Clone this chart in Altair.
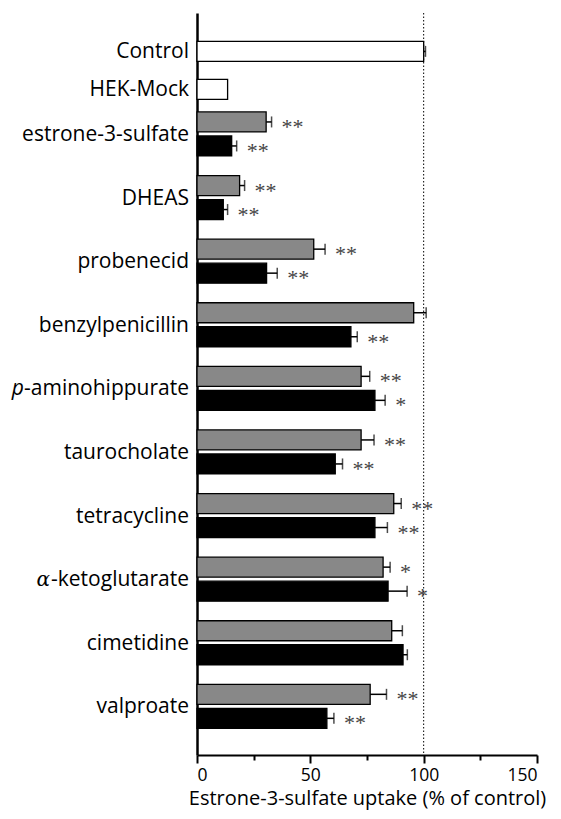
import altair as alt
import pandas as pd

# ---- data ----
controls = ["Control", "HEK-Mock"]
control_vals = [100.0, 13.5]
control_err = [0.8, 0.0]

categories = ["estrone-3-sulfate", "DHEAS", "probenecid", "benzylpenicillin",
              "p-aminohippurate", "taurocholate", "tetracycline",
              "α-ketoglutarate", "cimetidine", "valproate"]
gray_vals = [30.5, 18.8, 51.5, 95.6, 72.4, 72.4, 86.8, 82.1, 85.9, 76.4]
gray_err = [2.4, 2.2, 5.0, 5.5, 3.8, 5.7, 3.3, 3.1, 4.7, 7.2]
gray_sig = ["**", "**", "**", "", "**", "**", "**", "*", "", "**"]
black_vals = [15.3, 11.6, 30.7, 67.9, 78.5, 61.0, 78.5, 84.3, 90.9, 57.3]
black_err = [2.2, 1.9, 4.7, 2.8, 4.5, 3.2, 5.5, 8.4, 1.9, 3.1]
black_sig = ["**", "**", "**", "**", "*", "**", "**", "*", "", "**"]

x_ticks = [0, 25, 50, 75, 100, 125, 150]
ref_line = [100]

# ---- tables ----
ctrl_group = "Control / HEK-Mock"
group_order = [ctrl_group] + categories

ctrl_rows = []
for i, (n, v, e) in enumerate(zip(controls, control_vals, control_err)):
    ctrl_rows.append(dict(group=ctrl_group, slot=str(i + 1), kind="open",
                          name=n, value=v, err=e, end=v + e))
ctrl = pd.DataFrame(ctrl_rows)

rows = []
for c, v, e, s in zip(categories, gray_vals, gray_err, gray_sig):
    rows.append(dict(group=c, slot="1", kind="gray", value=v, err=e, end=v + e, sig=s))
for c, v, e, s in zip(categories, black_vals, black_err, black_sig):
    rows.append(dict(group=c, slot="2", kind="black", value=v, err=e, end=v + e, sig=s))
pairs = pd.DataFrame(rows)

prefix = {"p-aminohippurate": "p", "α-ketoglutarate": "α"}
labels = pd.DataFrame([dict(group=c, main=c[len(prefix.get(c, "")):], pre=prefix.get(c, ""))
                       for c in categories])

FONT = "Open Sans"
FILL = alt.Scale(domain=["open", "gray", "black"], range=["white", "#888888", "black"])

y_scale = alt.Scale(domain=group_order, paddingInner=0.308, paddingOuter=0.4875, align=0.57)
Y = alt.Y("group:N", scale=y_scale, sort=group_order,
          axis=alt.Axis(labels=False, ticks=False, title=None, domainWidth=2.5,
                        domainColor="black", grid=False))
# band offsets for bars / error bars
YO_pair = alt.YOffset("slot:N", scale=alt.Scale(domain=["1", "2"], paddingInner=1 / 6, paddingOuter=0))
YO_ctrl = alt.YOffset("slot:N", scale=alt.Scale(domain=["1", "2"], paddingInner=0.84, paddingOuter=0))
# point offsets for text marks (same centres as the bars)
YO_pair_txt = alt.YOffset("slot:N", scale=alt.Scale(type="point", domain=["1", "2"], padding=0.4167))
YO_ctrl_txt = alt.YOffset("slot:N", scale=alt.Scale(type="point", domain=["1", "2"], padding=0.079))

X = alt.X("value:Q", scale=alt.Scale(domain=[0, 150], nice=False),
          axis=alt.Axis(values=x_ticks, title="Estrone-3-sulfate uptake (% of control)",
                        labelExpr="datum.value % 50 === 0 ? datum.label : ''",
                        tickSize={"condition": {"test": "datum.value % 50 === 0", "value": 8}, "value": 5},
                        tickWidth=2, tickColor="black", domainWidth=2, domainColor="black",
                        labelFont=FONT, labelFontSize=17.5, labelColor="black", labelPadding=3,
                        titleFont=FONT, titleFontSize=20, titleFontWeight="normal",
                        titleColor="black", titlePadding=5, grid=False))

pc = alt.Chart(pairs)
cc = alt.Chart(ctrl)

pair_bars = pc.mark_bar(stroke="black", strokeWidth=1.3).encode(
    x=X, y=Y, yOffset=YO_pair, fill=alt.Fill("kind:N", scale=FILL, legend=None))
pair_rule = pc.mark_rule(color="black", strokeWidth=1.5).encode(
    x="value:Q", x2="end:Q", y="group:N", yOffset=YO_pair)
pair_cap = pc.mark_tick(orient="vertical", size=11, thickness=1.5, color="black").encode(
    x="end:Q", y="group:N", yOffset=YO_pair)
stars = pc.transform_filter("datum.sig != ''").mark_text(
    align="left", baseline="alphabetic", dx=10, dy=12, font="Liberation Serif", fontSize=22,
    color="#444444").encode(x="end:Q", y="group:N", yOffset=YO_pair_txt, text="sig:N")

ctrl_bars = cc.mark_bar(stroke="black", strokeWidth=1.3, size=20).encode(
    x="value:Q", y="group:N", yOffset=YO_ctrl, fill=alt.Fill("kind:N", scale=FILL, legend=None))
ctrl_rule = cc.transform_filter("datum.err > 0").mark_rule(color="black", strokeWidth=1.5).encode(
    x="value:Q", x2="end:Q", y="group:N", yOffset=YO_ctrl)
ctrl_cap = cc.transform_filter("datum.err > 0").mark_tick(
    orient="vertical", size=11, thickness=1.5, color="black").encode(
    x="end:Q", y="group:N", yOffset=YO_ctrl)
ctrl_lab = cc.mark_text(align="right", baseline="middle", dy=1, font=FONT, fontSize=21,
                        color="black").encode(
    x=alt.value(-8), y="group:N", yOffset=YO_ctrl_txt, text="name:N")

ref = alt.Chart(pd.DataFrame(dict(v=ref_line))).mark_rule(
    color="black", strokeWidth=1, strokeDash=[1.5, 2]).encode(x="v:Q")

lab_main = alt.Chart(labels).mark_text(
    align="right", baseline="middle", dy=1, font=FONT, fontSize=21, color="black").encode(
    x=alt.value(-8), y="group:N", text="main:N")
lab_p = alt.Chart(labels).transform_filter("datum.pre == 'p'").mark_text(
    align="right", baseline="middle", dy=1, font=FONT, fontSize=21, fontStyle="italic",
    color="black", dx=-165).encode(x=alt.value(-8), y="group:N", text="pre:N")
lab_a = alt.Chart(labels).transform_filter("datum.pre == 'α'").mark_text(
    align="right", baseline="middle", dy=1, font="DejaVu Serif", fontSize=20, fontStyle="italic",
    color="black", dx=-139).encode(x=alt.value(-8), y="group:N", text="pre:N")

chart = alt.layer(ref, pair_bars, pair_rule, pair_cap, stars, lab_main, lab_p, lab_a,
                  ctrl_bars, ctrl_rule, ctrl_cap, ctrl_lab).resolve_scale(
    yOffset="independent"
).properties(
    width=340, height=742, padding={"left": 3, "top": 4, "right": 0, "bottom": 3}
).configure_view(stroke=None)

chart.save("out.html", embed_options={"renderer": "svg", "actions": False})
